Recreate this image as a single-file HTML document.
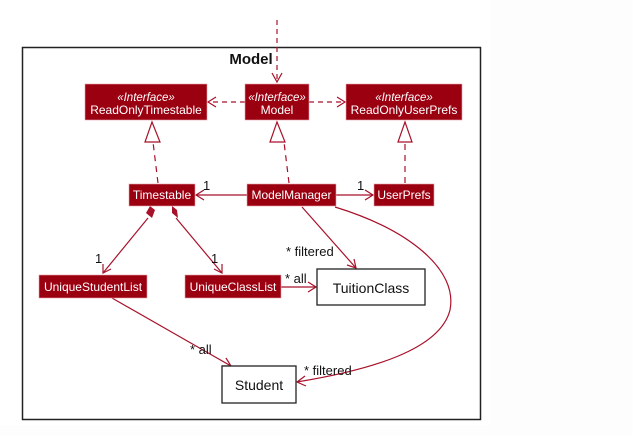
<!DOCTYPE html>
<html><head><style>
html,body{margin:0;padding:0;background:#fff;}
svg{display:block;}
text{font-family:"Liberation Sans",sans-serif;}
</style></head><body>
<svg width="633" height="436" viewBox="0 0 633 436" xmlns="http://www.w3.org/2000/svg">
<rect x="0" y="0" width="633" height="436" fill="#fdfdfd"/>
<rect x="0" y="0" width="490" height="425" fill="#fff"/>
<rect x="22.5" y="47.5" width="458" height="372" fill="#fff" stroke="#222" stroke-width="1.5"/>
<text x="251" y="64" font-size="15" font-weight="bold" text-anchor="middle" fill="#111">Model</text>

<g stroke="#a8112a" stroke-width="1.2" fill="none">
 <line x1="277" y1="20" x2="277" y2="82" stroke-dasharray="5,4"/>
 <polyline points="272,73 277,82 282,73"/>
 <line x1="245" y1="102" x2="208" y2="102" stroke-dasharray="5,4"/>
 <polyline points="216,97 208,102 216,107"/>
 <line x1="309" y1="102" x2="345" y2="102" stroke-dasharray="5,4"/>
 <polyline points="337,97 345,102 337,107"/>
 <line x1="158" y1="183" x2="153" y2="142" stroke-dasharray="6,5"/>
 <polygon points="152,122 145,142 160,142" fill="#fff"/>
 <line x1="289" y1="183" x2="284" y2="142" stroke-dasharray="6,5"/>
 <polygon points="277,122 270,142 285,142" fill="#fff"/>
 <line x1="405" y1="183" x2="405" y2="142" stroke-dasharray="6,5"/>
 <polygon points="405,122 398,142 412,142" fill="#fff"/>
 <line x1="247" y1="195" x2="196" y2="195"/>
 <polyline points="204,190 196,195 204,200"/>
 <line x1="336" y1="195" x2="373" y2="195"/>
 <polyline points="365,190 373,195 365,200"/>
 <line x1="148" y1="218" x2="103" y2="273"/>
 <polyline points="103,264 103,273 111,269"/>
 <line x1="176" y1="218" x2="222" y2="273"/>
 <polyline points="214,269 222,273 222,264"/>
 <line x1="281" y1="287" x2="316" y2="287"/>
 <polyline points="308,282 316,287 308,292"/>
 <line x1="302" y1="207" x2="356" y2="268"/>
 <polyline points="347,265 356,268 354,259"/>
 <path d="M335,207 C410,230 458,270 450,310 C440,350 370,370 297,382"/>
 <polyline points="305,376 297,382 306,386"/>
 <line x1="112" y1="298" x2="231" y2="366"/>
 <polyline points="222,366 231,366 226,358"/>
</g>
<g fill="#a8112a">
 <polygon points="150,206 155,210 152,218 146,213"/>
 <polygon points="172,206 177,210 178,218 172,213"/>
</g>

<g fill="#9b0011" stroke="#e8a0a8" stroke-width="0.6">
 <rect x="85" y="84" width="122" height="36"/>
 <rect x="245" y="84" width="64" height="36"/>
 <rect x="346" y="84" width="116" height="36"/>
 <rect x="129" y="184" width="66" height="22"/>
 <rect x="247" y="184" width="89" height="22"/>
 <rect x="374" y="184" width="60" height="22"/>
 <rect x="39" y="275" width="108" height="23"/>
 <rect x="185" y="275" width="96" height="23"/>
</g>
<g fill="#fff" font-size="12" text-anchor="middle">
 <text x="146" y="101" font-style="italic" font-size="11.5">«Interface»</text>
 <text x="146" y="114">ReadOnlyTimestable</text>
 <text x="277" y="101" font-style="italic" font-size="11.5">«Interface»</text>
 <text x="277" y="114">Model</text>
 <text x="404" y="101" font-style="italic" font-size="11.5">«Interface»</text>
 <text x="404" y="114">ReadOnlyUserPrefs</text>
 <text x="162" y="199">Timestable</text>
 <text x="291.5" y="199">ModelManager</text>
 <text x="404" y="199">UserPrefs</text>
 <text x="93" y="291">UniqueStudentList</text>
 <text x="233" y="291">UniqueClassList</text>
</g>
<rect x="317" y="269" width="108" height="36" fill="#fff" stroke="#222" stroke-width="1.3"/>
<text x="371" y="293" font-size="14" text-anchor="middle" fill="#111">TuitionClass</text>
<rect x="222" y="366" width="74" height="37" fill="#fff" stroke="#222" stroke-width="1.3"/>
<text x="259" y="390" font-size="14" text-anchor="middle" fill="#111">Student</text>

<g fill="#111" font-size="13">
 <text x="203" y="190">1</text>
 <text x="357" y="190">1</text>
 <text x="95" y="263">1</text>
 <text x="211" y="263">1</text>
 <text x="286" y="256">* filtered</text>
 <text x="285" y="283">* all</text>
 <text x="190" y="354">* all</text>
 <text x="304" y="375">* filtered</text>
</g>
</svg>
</body></html>
